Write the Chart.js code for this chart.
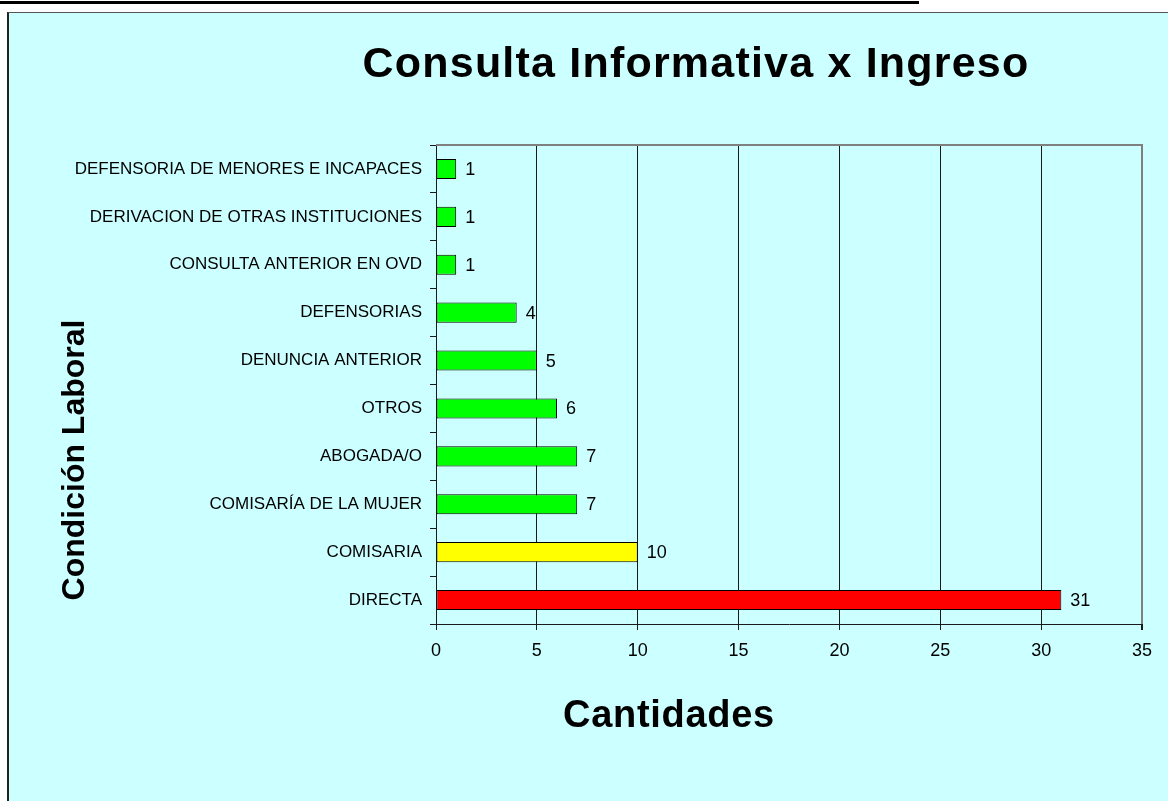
<!DOCTYPE html>
<html>
<head>
<meta charset="utf-8">
<title>Consulta Informativa x Ingreso</title>
<script src="https://cdn.jsdelivr.net/npm/chart.js@4.4.1/dist/chart.umd.min.js"></script>
<style>
    html, body { margin: 0; padding: 0; background: #ffffff; overflow: hidden; }
    #rule { position: absolute; left: 0; top: 1px; width: 919px; height: 3px; background: #000; }
    #frame {
        position: absolute; left: 7px; top: 12px; width: 1170px; height: 800px;
        background: #ccffff; border-left: 2px solid #222; border-top: 1px solid #555;
    }
    #wrap { position: absolute; left: 0; top: 0; width: 1168px; height: 801px; }
</style>
</head>
<body>
<div id="rule"></div>
<div id="frame"></div>
<div id="wrap"><canvas id="canvas"></canvas></div>
<script>
const FONT = '"Liberation Sans", Arial, Helvetica, sans-serif';

const titleText = 'Consulta Informativa x Ingreso';
const xTitle = 'Cantidades';
const yTitle = 'Condición Laboral';

const categories = [
    'DEFENSORIA DE MENORES E INCAPACES',
    'DERIVACION DE OTRAS INSTITUCIONES',
    'CONSULTA ANTERIOR EN OVD',
    'DEFENSORIAS',
    'DENUNCIA ANTERIOR',
    'OTROS',
    'ABOGADA/O',
    'COMISARÍA DE LA MUJER',
    'COMISARIA',
    'DIRECTA'
];
const cantidades = [1, 1, 1, 4, 5, 6, 7, 7, 10, 31];
const barColors = ['#00ff00', '#00ff00', '#00ff00', '#00ff00', '#00ff00',
                   '#00ff00', '#00ff00', '#00ff00', '#ffff00', '#ff0000'];
const xMax = 35;
const xStep = 5;

// value labels at the end of each bar
const valueLabels = {
    id: 'valueLabels',
    afterDatasetsDraw(chart) {
        const ctx = chart.ctx;
        const meta = chart.getDatasetMeta(0);
        ctx.save();
        ctx.font = '18px ' + FONT;
        ctx.fillStyle = '#000';
        ctx.textAlign = 'left';
        ctx.textBaseline = 'middle';
        meta.data.forEach((bar, i) => {
            ctx.fillText(String(cantidades[i]), bar.x + 9, bar.y + 1);
        });
        ctx.restore();
    }
};

// gray frame on top/right of the plot, plus the titles
const decorations = {
    id: 'decorations',
    beforeDatasetsDraw(chart) {
        const { ctx, chartArea: a } = chart;
        ctx.save();
        ctx.strokeStyle = '#808080';
        ctx.lineWidth = 2;
        ctx.beginPath();
        ctx.moveTo(a.left, a.top);
        ctx.lineTo(a.right, a.top);
        ctx.lineTo(a.right, a.bottom);
        ctx.stroke();
        ctx.restore();
    },
    afterDraw(chart) {
        const { ctx, chartArea: a } = chart;
        ctx.save();
        ctx.fillStyle = '#000';
        ctx.textAlign = 'center';
        ctx.textBaseline = 'alphabetic';

        ctx.font = 'bold 43px ' + FONT;
        ctx.letterSpacing = '1.2px';
        ctx.fillText(titleText, a.left + 260, a.top - 68);

        ctx.font = 'bold 38px ' + FONT;
        ctx.letterSpacing = '0.7px';
        ctx.fillText(xTitle, a.left + 233, a.bottom + 103);

        ctx.font = 'bold 32px ' + FONT;
        ctx.letterSpacing = '0px';
        ctx.translate(84, 460);
        ctx.rotate(-Math.PI / 2);
        ctx.fillText(yTitle, 0, 0);
        ctx.restore();
    }
};

const ctx = document.getElementById('canvas').getContext('2d');
const chart = new Chart(ctx, {
    type: 'bar',
    data: {
        labels: categories,
        datasets: [{
            data: cantidades,
            backgroundColor: barColors,
            borderColor: '#000',
            borderWidth: 1,
            borderSkipped: false,
            barPercentage: 0.42,
            categoryPercentage: 1
        }]
    },
    options: {
        indexAxis: 'y',
        responsive: true,
        maintainAspectRatio: false,
        animation: false,
        layout: { padding: { left: 0, top: 145, right: 26, bottom: 0 } },
        plugins: {
            legend: { display: false },
            tooltip: { enabled: false },
            title: { display: false }
        },
        scales: {
            x: {
                min: 0,
                max: xMax,
                afterFit: (s) => { s.height = 177; },
                ticks: {
                    stepSize: xStep,
                    padding: 10,
                    color: '#000',
                    font: { family: FONT, size: 18 }
                },
                grid: {
                    color: (c) => c.tick && c.tick.value === xMax ? '#808080' : '#1a1a1a',
                    lineWidth: (c) => c.tick && c.tick.value === xMax ? 2 : 1,
                    tickColor: '#1a1a1a',
                    tickLength: 6
                },
                border: { color: '#1a1a1a', width: 1 }
            },
            y: {
                afterFit: (s) => { s.width = 436; },
                ticks: {
                    padding: 8,
                    color: '#000',
                    font: { family: FONT, size: 17 }
                },
                grid: {
                    drawOnChartArea: false,
                    tickColor: '#1a1a1a',
                    tickLength: 6
                },
                border: { color: '#1a1a1a', width: 1 }
            }
        }
    },
    plugins: [decorations, valueLabels]
});
</script>
</body>
</html>
